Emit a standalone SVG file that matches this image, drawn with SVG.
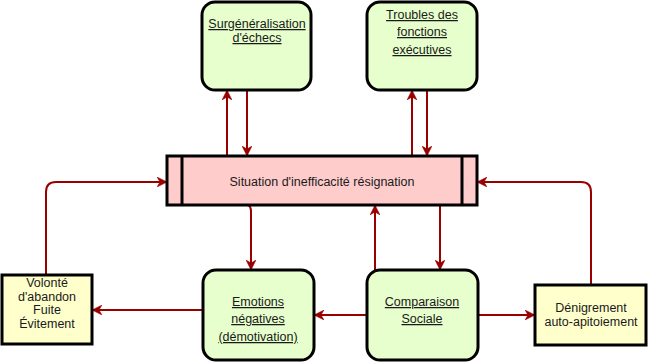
<svg xmlns="http://www.w3.org/2000/svg" width="648" height="362" viewBox="0 0 648 362">
<defs>
<marker id="arr" viewBox="0 0 10 10" refX="9" refY="5" markerWidth="10" markerHeight="10" markerUnits="userSpaceOnUse" orient="auto">
<path d="M0,0 L10,5 L0,10 L3,5 Z" fill="#990000" stroke="#990000" stroke-width="0.5"/>
</marker>
<style>
.g{fill:#E6FFCC;stroke:#000;stroke-width:3}
.y{fill:#FFFFCC;stroke:#000;stroke-width:3}
.p{fill:#FFCCCC;stroke:#000;stroke-width:3}
.t{font-family:"Liberation Sans",Arial,sans-serif;font-size:12.5px;fill:#1a1a1a;text-anchor:middle}
.u{text-decoration:underline}
.c{fill:none;stroke:#990000;stroke-width:2;marker-end:url(#arr)}
</style>
</defs>
<rect width="648" height="362" fill="#fff"/>
<g id="connectors">
<path class="c" d="M227,156 V91"/>
<path class="c" d="M247,90 V155"/>
<path class="c" d="M412,156 V91"/>
<path class="c" d="M427,90 V155"/>
<path class="c" d="M46,275 V192 Q46,182 56,182 H166"/>
<path class="c" d="M591,285 V192 Q591,182 581,182 H478"/>
<path class="c" d="M247,205 Q251,205 251,212 V269"/>
<path class="c" d="M375,270 V206"/>
<path class="c" d="M440,205 V269"/>
<path class="c" d="M203,310 H93"/>
<path class="c" d="M367,315 H315"/>
<path class="c" d="M478,315 H534"/>
</g>
<g id="surgeneralisation">
<rect class="g" x="202" y="2" width="109" height="88" rx="13"/>
<text class="t u" x="257" y="28">Surgénéralisation</text>
<text class="t u" x="257" y="42">d'échecs</text>
</g>
<g id="troubles">
<rect class="g" x="367" y="2" width="110" height="88" rx="13"/>
<text class="t u" x="422" y="19">Troubles des</text>
<text class="t u" x="422" y="36">fonctions </text>
<text class="t u" x="422" y="54">exécutives</text>
</g>
<g id="situation">
<rect class="p" x="167" y="156" width="310" height="49"/>
<line x1="182" y1="156" x2="182" y2="205" stroke="#000" stroke-width="3"/>
<line x1="462" y1="156" x2="462" y2="205" stroke="#000" stroke-width="3"/>
<text class="t" x="322" y="186">Situation d'inefficacité résignation</text>
</g>
<g id="volonte">
<rect class="y" x="2" y="275" width="90" height="69"/>
<text class="t" x="47" y="287">Volonté</text>
<text class="t" x="47" y="300.5">d'abandon</text>
<text class="t" x="47" y="314">Fuite</text>
<text class="t" x="47" y="327.5">Évitement</text>
</g>
<g id="emotions">
<rect class="g" x="203" y="270" width="111" height="90" rx="13"/>
<text class="t u" x="258" y="306">Emotions</text>
<text class="t u" x="258" y="323"> négatives</text>
<text class="t u" x="258" y="341">(démotivation)</text>
</g>
<g id="comparaison">
<rect class="g" x="367" y="270" width="111" height="90" rx="13"/>
<text class="t u" x="422" y="306">Comparaison </text>
<text class="t u" x="422" y="323">Sociale</text>
</g>
<g id="denigrement">
<rect class="y" x="535" y="285" width="111" height="60"/>
<text class="t" x="591" y="312">Dénigrement</text>
<text class="t" x="591" y="326">auto-apitoiement</text>
</g>
</svg>
